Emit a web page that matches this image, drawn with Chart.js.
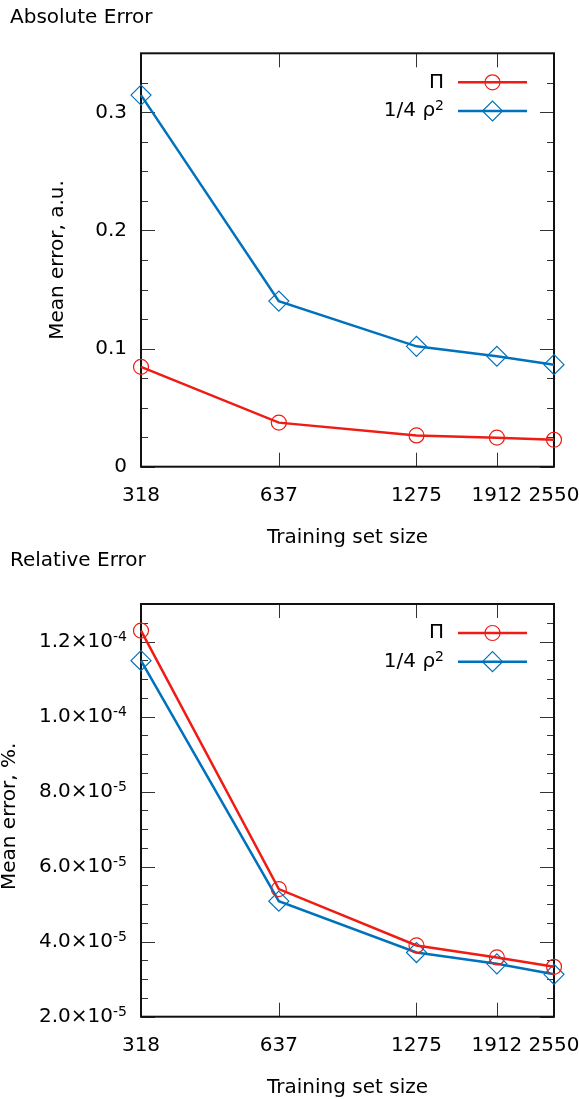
<!DOCTYPE html>
<html>
<head>
<meta charset="utf-8">
<script src="https://cdn.jsdelivr.net/npm/chart.js@4.4.1/dist/chart.umd.min.js"></script>
<style>
  html, body { margin: 0; padding: 0; background: #fff; }
  .panel { position: absolute; left: 0; width: 579px; }
</style>
</head>
<body>
<div class="panel" style="top:0;height:549px"><canvas id="absChart" width="579" height="549"></canvas></div>
<div class="panel" style="top:549px;height:550px"><canvas id="relChart" width="579" height="550"></canvas></div>
<script>
// training set sizes (x, log scale)
const trainSizes = [318, 637, 1275, 1912, 2550];
const seriesNames = ['Π', '1/4 ρ^2'];

// absolute error, a.u.
const absPi = [0.0845, 0.0373, 0.0265, 0.0246, 0.0228];
const absRho = [0.3146, 0.1402, 0.1019, 0.0935, 0.0864];
const absTicks = [0, 0.1, 0.2, 0.3];
const absTickLabels = ['0', '0.1', '0.2', '0.3'];

// relative error, %
const relPi = [1.229e-4, 5.40e-5, 3.90e-5, 3.58e-5, 3.33e-5];
const relRho = [1.149e-4, 5.08e-5, 3.71e-5, 3.41e-5, 3.13e-5];
const relTicks = [2e-5, 4e-5, 6e-5, 8e-5, 1.0e-4, 1.2e-4];
const relTickLabels = ['2.0×10^-5', '4.0×10^-5', '6.0×10^-5', '8.0×10^-5', '1.0×10^-4', '1.2×10^-4'];

const RED = '#ee1c14';
const BLUE = '#0072bd';
const FAMILY = "'DejaVu Sans', sans-serif";
const MAIN_FONT = '20px ' + FAMILY;
const SUP_FONT = '14px ' + FAMILY;

// text with an optional "^exponent" part drawn as superscript
function drawSupText(ctx, text, x, y, align) {
  const parts = text.split('^');
  const base = parts[0], sup = parts[1];
  ctx.font = MAIN_FONT;
  const wb = ctx.measureText(base).width;
  let ws = 0;
  if (sup) { ctx.font = SUP_FONT; ws = ctx.measureText(sup).width; }
  let x0 = x;
  if (align === 'right') x0 = x - wb - ws;
  else if (align === 'center') x0 = x - (wb + ws) / 2;
  ctx.textAlign = 'left';
  ctx.textBaseline = 'middle';
  ctx.font = MAIN_FONT;
  ctx.fillText(base, x0, y);
  if (sup) {
    ctx.font = SUP_FONT;
    ctx.textBaseline = 'alphabetic';
    ctx.fillText(sup, x0 + wb, y - 1);
  }
}

function drawMarker(ctx, style, x, y, color) {
  ctx.save();
  ctx.strokeStyle = color;
  ctx.lineWidth = 1.2;
  ctx.beginPath();
  if (style === 'circle') {
    ctx.arc(x, y, 7.5, 0, Math.PI * 2);
  } else {
    ctx.moveTo(x - 10, y); ctx.lineTo(x, y - 10);
    ctx.lineTo(x + 10, y); ctx.lineTo(x, y + 10);
    ctx.closePath();
  }
  ctx.stroke();
  ctx.restore();
}

// gnuplot-like frame, inward ticks, labels and key
const gnuFrame = {
  id: 'gnuFrame',
  beforeDatasetsDraw(chart, args, o) {
    const ctx = chart.ctx;
    const a = chart.chartArea;
    const xs = chart.scales.x, ys = chart.scales.y;
    ctx.save();
    ctx.strokeStyle = '#333';
    ctx.lineWidth = 1;
    ctx.beginPath();
    // y ticks, major + minor, both sides
    const n = Math.round((o.yMax - o.yMin) / o.minorStep);
    for (let i = 0; i <= n; i++) {
      const v = o.yMin + i * o.minorStep;
      const py = Math.round(ys.getPixelForValue(v)) + 0.5;
      const major = o.ticks.some(t => Math.abs(t - v) < o.minorStep / 10);
      const len = major ? 14 : 7;
      ctx.moveTo(a.left, py); ctx.lineTo(a.left + len, py);
      ctx.moveTo(a.right, py); ctx.lineTo(a.right - len, py);
    }
    // x ticks, bottom + top
    trainSizes.forEach(s => {
      const px = Math.round(xs.getPixelForValue(s)) + 0.5;
      ctx.moveTo(px, a.bottom); ctx.lineTo(px, a.bottom - 14);
      ctx.moveTo(px, a.top); ctx.lineTo(px, a.top + 14);
    });
    ctx.stroke();
    ctx.strokeStyle = '#111';
    ctx.lineWidth = 2;
    ctx.strokeRect(a.left, a.top, a.right - a.left, a.bottom - a.top);
    ctx.restore();
  },
  afterDraw(chart, args, o) {
    const ctx = chart.ctx;
    const a = chart.chartArea;
    const xs = chart.scales.x, ys = chart.scales.y;
    ctx.save();
    ctx.fillStyle = '#000';
    // panel title
    ctx.font = MAIN_FONT;
    ctx.textAlign = 'left';
    ctx.textBaseline = 'middle';
    ctx.fillText(o.title, 10, o.titleY);
    // y tick labels
    o.ticks.forEach((t, i) => {
      drawSupText(ctx, o.tickLabels[i], a.left - 14, ys.getPixelForValue(t), 'right');
    });
    // x tick labels
    ctx.font = MAIN_FONT;
    ctx.textAlign = 'center';
    ctx.textBaseline = 'middle';
    trainSizes.forEach(s => ctx.fillText(String(s), xs.getPixelForValue(s), a.bottom + 29));
    // axis titles
    ctx.fillText('Training set size', (a.left + a.right) / 2, a.bottom + 71.5);
    ctx.save();
    ctx.translate(o.yTitleX, (a.top + a.bottom) / 2 + o.yTitleShift);
    ctx.rotate(-Math.PI / 2);
    ctx.fillText(o.yTitle, 0, 0);
    ctx.restore();
    // key
    chart.data.datasets.forEach((ds, i) => {
      const ky = a.top + 29 + i * 28.7;
      ctx.fillStyle = '#000';
      drawSupText(ctx, seriesNames[i], 444, ky, 'right');
      ctx.strokeStyle = ds.borderColor;
      ctx.lineWidth = 2.5;
      ctx.beginPath();
      ctx.moveTo(458, ky); ctx.lineTo(527, ky);
      ctx.stroke();
      drawMarker(ctx, ds.pointStyle, 492.5, ky, ds.borderColor);
    });
    ctx.restore();
  }
};

function series(vals, name, color, style) {
  return {
    label: name,
    data: trainSizes.map((s, i) => ({ x: s, y: vals[i] })),
    borderColor: color,
    borderWidth: 2.5,
    backgroundColor: 'transparent',
    pointStyle: style,
    pointRadius: style === 'circle' ? 7.5 : 10,
    pointBorderWidth: 1.2,
    pointBorderColor: color,
    pointBackgroundColor: 'transparent',
    tension: 0,
    clip: false
  };
}

function makePanel(id, pi, rho, cfg) {
  return new Chart(document.getElementById(id), {
    type: 'line',
    data: {
      datasets: [
        series(pi, seriesNames[0], RED, 'circle'),
        series(rho, seriesNames[1], BLUE, 'rectRot')
      ]
    },
    options: {
      responsive: false,
      animation: false,
      layout: { padding: { left: 141, right: 25, top: cfg.padTop, bottom: cfg.padBottom } },
      plugins: {
        legend: { display: false },
        tooltip: { enabled: false },
        gnuFrame: cfg
      },
      scales: {
        x: { type: 'logarithmic', min: 318, max: 2550, display: false },
        y: { type: 'linear', min: cfg.yMin, max: cfg.yMax, display: false }
      }
    },
    plugins: [gnuFrame]
  });
}

makePanel('absChart', absPi, absRho, {
  title: 'Absolute Error', titleY: 18,
  yTitle: 'Mean error, a.u.', yTitleX: 58, yTitleShift: 0,
  yMin: 0, yMax: 0.35, minorStep: 0.025,
  ticks: absTicks, tickLabels: absTickLabels,
  padTop: 53.3, padBottom: 82.3
});

makePanel('relChart', relPi, relRho, {
  title: 'Relative Error', titleY: 12,
  yTitle: 'Mean error, %.', yTitleX: 10, yTitleShift: 6,
  yMin: 2e-5, yMax: 1.3e-4, minorStep: 0.5e-5,
  ticks: relTicks, tickLabels: relTickLabels,
  padTop: 55, padBottom: 82.3
});
</script>
</body>
</html>
